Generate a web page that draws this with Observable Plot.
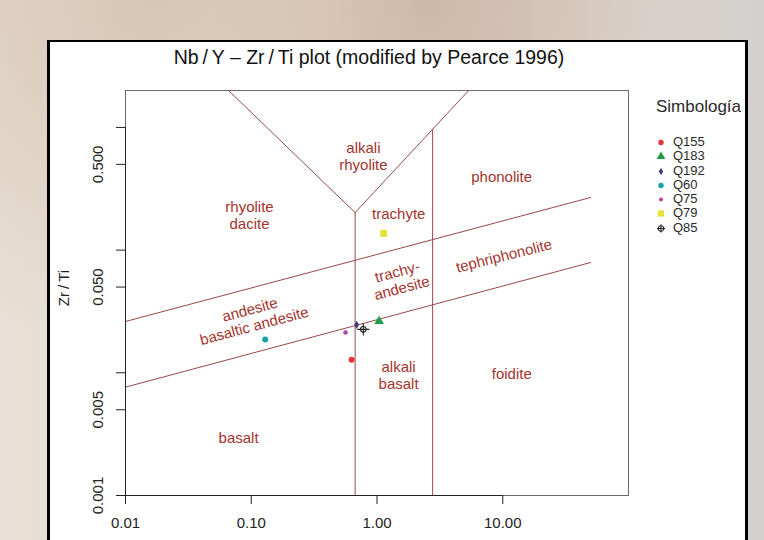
<!DOCTYPE html>
<html>
<head>
<meta charset="utf-8">
<script src="https://cdn.jsdelivr.net/npm/d3@7"></script>
<script src="https://cdn.jsdelivr.net/npm/@observablehq/plot@0.6"></script>
<style>
  html, body { margin: 0; padding: 0; }
  body {
    width: 764px; height: 540px; overflow: hidden; position: relative;
    font-family: "Liberation Sans", Arial, sans-serif;
    background:
      radial-gradient(ellipse at 20% 0%, #d9c7b6 0%, rgba(217,199,182,0) 45%),
      radial-gradient(ellipse at 55% 0%, #c9b3a3 0%, rgba(201,179,163,0) 40%),
      linear-gradient(to right, #e8e0d6 0%, #e6d8ca 40%, #ddd2c8 75%, #d3d1cf 100%);
  }
  #panel {
    position: absolute; left: 47px; top: 40px; width: 701px; height: 520px;
    box-sizing: border-box; background: #ffffff;
    border-left: 3px solid #000; border-top: 2px solid #000; border-right: 3px solid #000;
  }
  #chart { position: absolute; left: 0; top: 0; }
  #legend { position: absolute; left: 656px; top: 96px; color: #2a2a2a; }
  #legend .ttl { font-size: 17px; line-height: 22px; margin-bottom: 17px; white-space: nowrap; }
  #legend .row { position: relative; height: 14.3px; font-size: 13px; line-height: 14.3px; }
  #legend .row svg { position: absolute; left: -1px; top: 0; }
  #legend .row span { position: absolute; left: 17px; top: 0; }
</style>
</head>
<body>
<div id="panel"></div>
<div id="chart"></div>
<div id="legend"></div>
<script>
// ---- data ----
const samples = ["Q155", "Q183", "Q192", "Q60", "Q75", "Q79", "Q85"];
const nbY     = [0.628, 1.04, 0.689, 0.129, 0.562, 1.13, 0.778];
const zrTi    = [0.0128, 0.0263, 0.0246, 0.0187, 0.0213, 0.137, 0.0226];
const sampleColors  = ["#E4323C", "#1E9B4B", "#3B3B7E", "#14A3A3", "#B9479F", "#E3E33A", "#222222"];
const sampleSymbols = ["circle", "triangle", "diamond", "circle", "circle", "square", "circlecross"];
const sampleRadius  = [3.0, 3.6, 2.5, 3.0, 2.3, 3.9, 2.8];

const xTicks = [0.01, 0.1, 1, 10];
const xTickLabels = ["0.01", "0.10", "1.00", "10.00"];
const yTicks = [0.001, 0.005, 0.01, 0.05, 0.1, 0.5, 1];
const yLabelValues = [0.001, 0.005, 0.05, 0.5];
const yLabelTexts = ["0.001", "0.005", "0.050", "0.500"];

// sloping field boundaries (Nb/Y, Zr/Ti)
const boundaryNames = ["upper", "lower", "leftArm", "rightArm"];
const boundaryX = [[0.01, 50], [0.01, 50], [0.0659, 0.67], [0.67, 5.36]];
const boundaryY = [[0.0262, 0.2686], [0.00764, 0.0793], [2, 0.2023], [0.2023, 2]];
// vertical field boundaries: Nb/Y value, top Zr/Ti, bottom Zr/Ti
const verticalX = [0.67, 2.77];
const verticalTop = [0.2023, 0.962];
const verticalBottom = [0.001, 0.001];

const regionLabels = ["alkali\nrhyolite", "rhyolite\ndacite", "trachyte", "phonolite", "trachy-\nandesite",
                      "tephriphonolite", "andesite\nbasaltic andesite", "alkali\nbasalt", "foidite", "basalt"];
const regionX = [0.78, 0.0968, 1.49, 9.8, 1.51, 10.2, 0.1014, 1.485, 11.8, 0.0793];
const regionY = [0.582, 0.194, 0.198, 0.398, 0.0575, 0.0904, 0.0283, 0.0096, 0.0098, 0.00297];
const regionAngle = [0, 0, 0, 0, -15, -14, -15, 0, 0, 0];

const titleText = "Nb\u2009/\u2009Y \u2013 Zr\u2009/\u2009Ti plot (modified by Pearce 1996)";
const yTitle = "Zr\u2009/\u2009Ti";
const legendTitle = "Simbología";

// ---- tables ----
const segs = [];
boundaryNames.forEach((n, i) => {
  boundaryX[i].forEach((x, j) => segs.push({seg: n, x, y: boundaryY[i][j]}));
});
const verticals = verticalX.map((x, i) => ({x, y1: verticalTop[i], y2: verticalBottom[i]}));
const labels = regionLabels.map((t, i) => ({t, x: regionX[i], y: regionY[i], a: regionAngle[i]}));
const pts = samples.map((s, i) => ({s, x: nbY[i], y: zrTi[i], c: sampleColors[i], sym: sampleSymbols[i], r: sampleRadius[i]}));

const lineColor = "#97484A";
const textColor = "#A3342E";

const pointMarks = [];
pts.forEach(p => {
  if (p.sym === "circlecross") {
    pointMarks.push(Plot.dot([p], {x: "x", y: "y", r: p.r, stroke: p.c, fill: "none", strokeWidth: 1.1}));
    pointMarks.push(Plot.dot([p], {x: "x", y: "y", r: p.r + 1.2, symbol: "plus", stroke: p.c, strokeWidth: 1.1}));
  } else {
    pointMarks.push(Plot.dot([p], {x: "x", y: "y", r: p.r, symbol: p.sym, fill: p.c, stroke: "none"}));
  }
});

const chart = Plot.plot({
  width: 764,
  height: 540,
  marginLeft: 125,
  marginRight: 136,
  marginTop: 90,
  marginBottom: 45,
  style: {background: "transparent", fontFamily: "'Liberation Sans', Arial, sans-serif", overflow: "visible"},
  x: {type: "log", domain: [0.01, 100]},
  y: {type: "log", domain: [0.001, 2]},
  marks: [
    Plot.frame({stroke: "#6a6a6a", strokeWidth: 1}),
    Plot.line(segs, {x: "x", y: "y", z: "seg", stroke: lineColor, strokeWidth: 1}),
    Plot.ruleX(verticals, {x: "x", y1: "y1", y2: "y2", stroke: lineColor, strokeWidth: 1}),
    Plot.axisX(xTicks, {tickSize: 9, tickPadding: 13, fontSize: 15, fill: "#222", stroke: "#222",
      tickFormat: (d) => xTickLabels[xTicks.indexOf(d)], label: null}),
    Plot.axisY(yTicks, {tickSize: 9, tickFormat: () => "", stroke: "#222", label: null}),
    Plot.ruleY([0.001], {x1: 0.01, x2: 10, stroke: "#222"}),
    Plot.ruleX([0.01], {y1: 0.001, y2: 1, stroke: "#222"}),
    Plot.text(yLabelValues, {y: (d) => d, text: (d, i) => yLabelTexts[i], frameAnchor: "left", dx: -27,
      rotate: -90, textAnchor: "middle", lineAnchor: "middle", fontSize: 15, fill: "#222"}),
    Plot.text([yTitle], {frameAnchor: "left", dx: -61, dy: -5, rotate: -90, textAnchor: "middle",
      lineAnchor: "middle", fontSize: 15, fill: "#222"}),
    Plot.text([titleText], {frameAnchor: "top", dx: -8, dy: -33, textAnchor: "middle", lineAnchor: "middle",
      fontSize: 19.5, fill: "#111"}),
    Plot.text(labels, {x: "x", y: "y", text: "t", rotate: "a", textAnchor: "middle", lineAnchor: "middle",
      lineHeight: 1.12, fontSize: 15, fill: textColor}),
    ...pointMarks
  ]
});
document.getElementById("chart").appendChild(chart);

// ---- legend ----
const legend = document.getElementById("legend");
const ttl = document.createElement("div");
ttl.className = "ttl";
ttl.textContent = legendTitle;
legend.appendChild(ttl);
const symMap = {circle: d3.symbolCircle, triangle: d3.symbolTriangle, diamond: d3.symbolDiamond, square: d3.symbolSquare};
pts.forEach(p => {
  const row = document.createElement("div");
  row.className = "row";
  const svg = d3.create("svg").attr("width", 12).attr("height", 14);
  const g = svg.append("g").attr("transform", "translate(6,7.5)");
  if (p.sym === "circlecross") {
    g.append("circle").attr("r", 2.8).attr("fill", "none").attr("stroke", p.c).attr("stroke-width", 1.1);
    g.append("path").attr("d", "M-4,0H4M0,-4V4").attr("stroke", p.c).attr("stroke-width", 1.1);
  } else {
    const rr = p.r * 0.9;
    g.append("path").attr("d", d3.symbol(symMap[p.sym], Math.PI * rr * rr)()).attr("fill", p.c);
  }
  row.appendChild(svg.node());
  const sp = document.createElement("span");
  sp.textContent = p.s;
  row.appendChild(sp);
  legend.appendChild(row);
});
</script>
</body>
</html>
